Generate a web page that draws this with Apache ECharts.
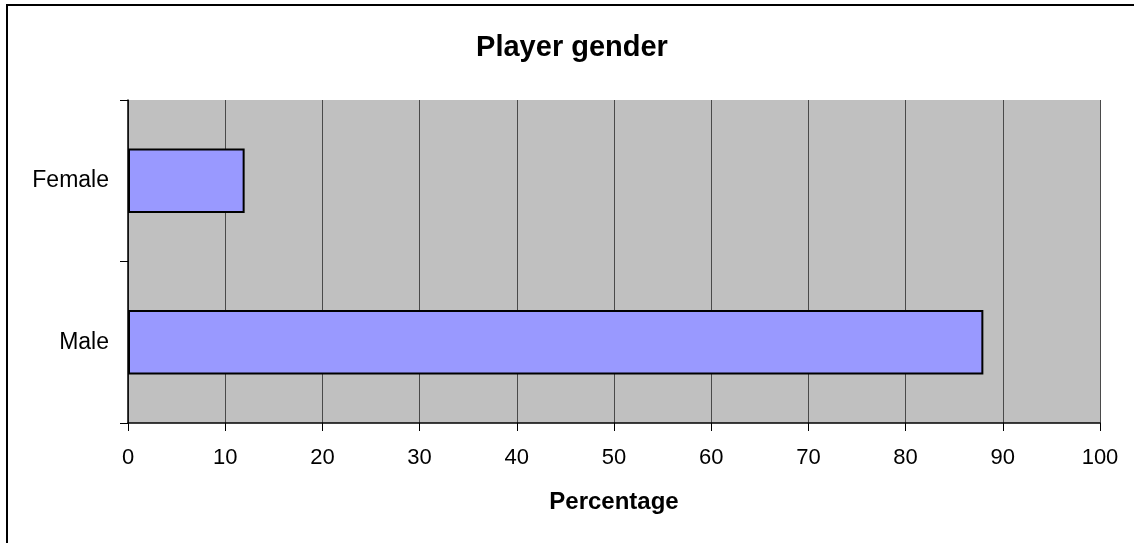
<!DOCTYPE html>
<html>
<head>
<meta charset="utf-8">
<script src="https://cdn.jsdelivr.net/npm/echarts@6/dist/echarts.min.js"></script>
<style>
html,body{margin:0;padding:0;background:#fff;}
#chart{width:1134px;height:543px;}
</style>
</head>
<body>
<div id="chart"></div>
<script>
const chartTitle = 'Player gender';
const categories = ['Female', 'Male'];
const percentages = [12, 88];
const axisName = 'Percentage';

const chart = echarts.init(document.getElementById('chart'), null, {renderer: 'canvas'});
chart.setOption({
  animation: false,
  backgroundColor: '#ffffff',
  title: {
    text: chartTitle,
    left: 567,
    textAlign: 'center',
    top: 28,
    textStyle: {fontFamily: 'Liberation Sans, Arial, sans-serif', fontSize: 29, fontWeight: 'bold', color: '#000'}
  },
  graphic: [{
    type: 'rect',
    shape: {x: 7, y: 5, width: 1200, height: 600},
    style: {fill: 'none', stroke: '#000', lineWidth: 2},
    silent: true
  }],
  grid: {
    left: 128, right: 34, top: 100, bottom: 120,
    show: true, backgroundColor: '#c0c0c0', borderWidth: 0
  },
  xAxis: {
    type: 'value', min: 0, max: 100, interval: 10,
    name: axisName, nameLocation: 'middle', nameGap: 67,
    nameTextStyle: {fontFamily: 'Liberation Sans, Arial, sans-serif', fontSize: 24, fontWeight: 'bold', color: '#000'},
    axisLine: {show: true, lineStyle: {color: '#000', width: 1.5}},
    axisTick: {show: true, length: 8, lineStyle: {color: '#000'}},
    axisLabel: {margin: 24, fontFamily: 'Liberation Sans, Arial, sans-serif', fontSize: 22, color: '#000'},
    splitLine: {show: true, lineStyle: {color: '#4a4a4a', width: 1}}
  },
  yAxis: {
    type: 'category', data: categories, inverse: true,
    axisLine: {show: true, lineStyle: {color: '#000', width: 1.5}},
    axisTick: {show: true, length: 8, lineStyle: {color: '#000'}},
    axisLabel: {margin: 19, fontFamily: 'Liberation Sans, Arial, sans-serif', fontSize: 23, color: '#000'},
    splitLine: {show: false}
  },
  series: [{
    type: 'bar',
    data: percentages,
    barCategoryGap: '60%',
    itemStyle: {color: '#9999ff', borderColor: '#000', borderWidth: 2}
  }]
});
</script>
</body>
</html>
